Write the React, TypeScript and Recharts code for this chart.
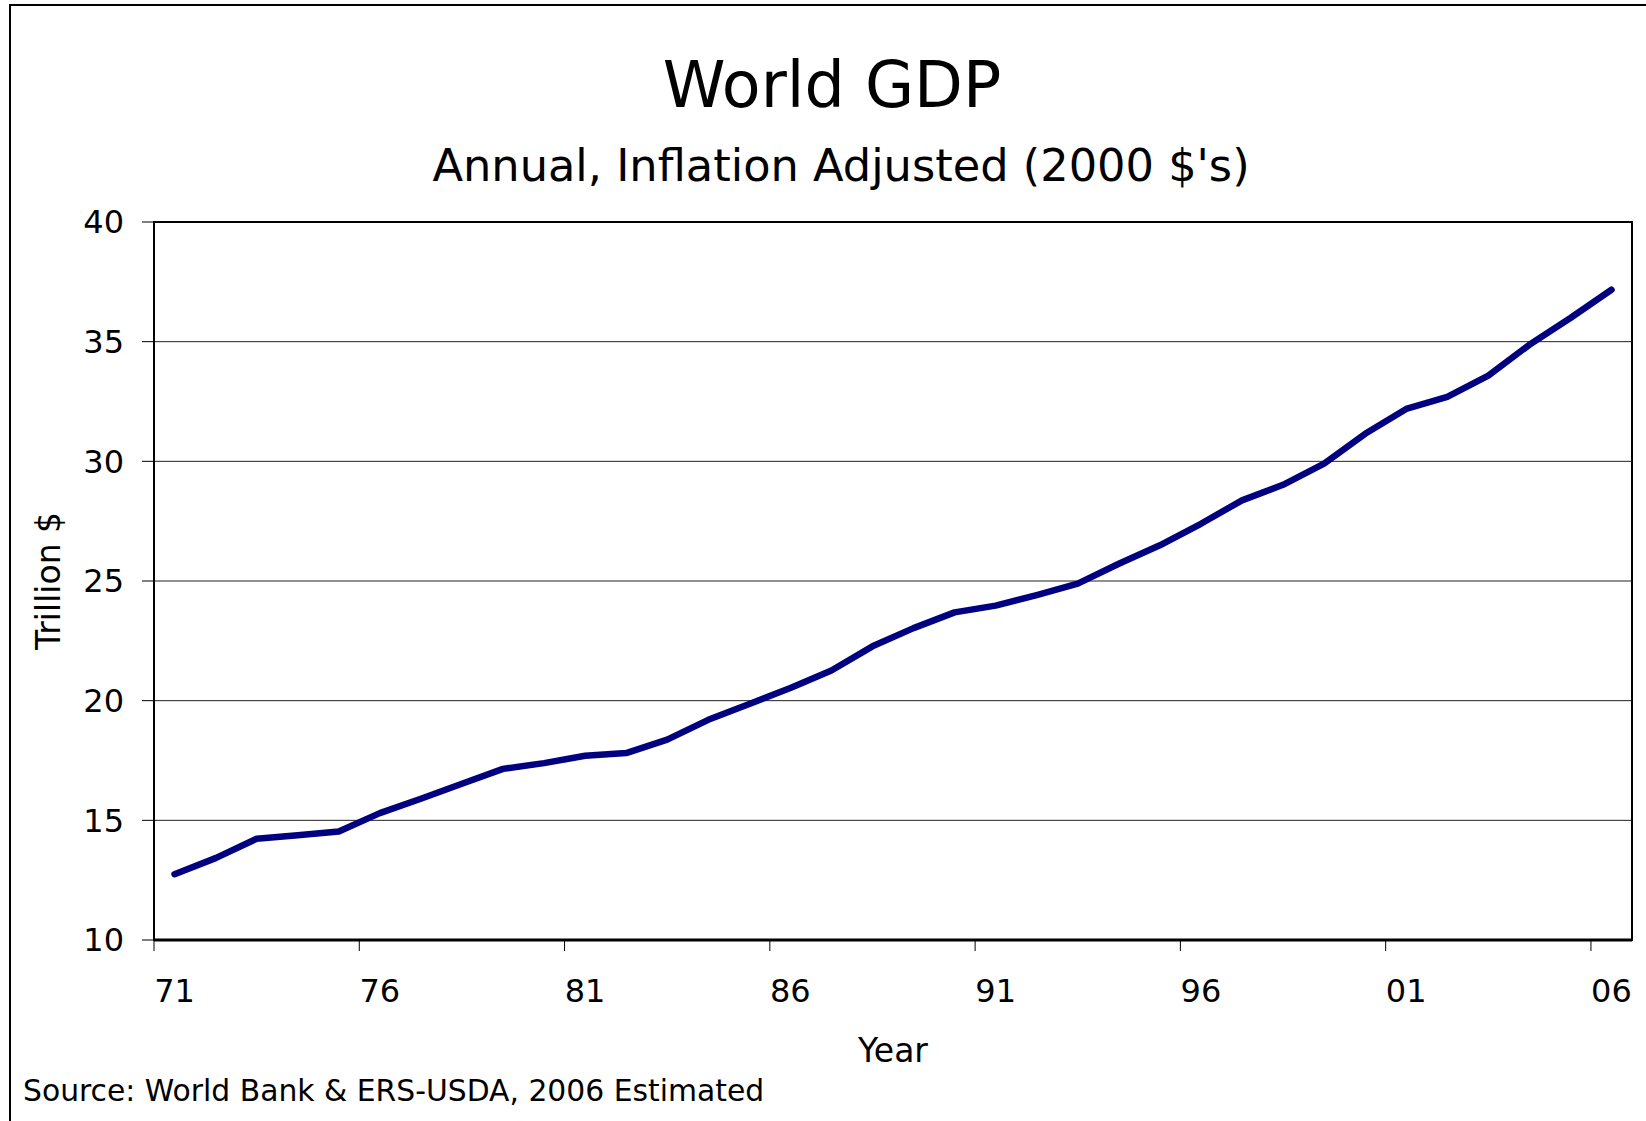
import React from "react";
import {
    LineChart,
    Line,
    XAxis,
    YAxis,
    CartesianGrid,
    ReferenceArea,
} from "recharts";

// World GDP, trillions of 2000 dollars (2006 estimated)
const years = [
    1971, 1972, 1973, 1974, 1975, 1976, 1977, 1978, 1979, 1980, 1981, 1982,
    1983, 1984, 1985, 1986, 1987, 1988, 1989, 1990, 1991, 1992, 1993, 1994,
    1995, 1996, 1997, 1998, 1999, 2000, 2001, 2002, 2003, 2004, 2005, 2006,
];
const gdp = [
    12.75, 13.42, 14.23, 14.38, 14.53, 15.3, 15.9, 16.53, 17.15, 17.39, 17.7,
    17.81, 18.37, 19.2, 19.86, 20.53, 21.26, 22.27, 23.03, 23.69, 23.97, 24.41,
    24.89, 25.72, 26.49, 27.39, 28.37, 29.02, 29.9, 31.15, 32.19, 32.69, 33.58,
    34.87, 35.99, 37.17,
];
const yTicks = [10, 15, 20, 25, 30, 35, 40];
// tick marks sit on the category boundaries, labels in the middle
const xTicks = [1970.5, 1975.5, 1980.5, 1985.5, 1990.5, 1995.5, 2000.5, 2005.5];

const data = years.map((year, i) => ({ year, gdp: gdp[i] }));

const W = 1646;
const H = 1121;
const PLOT_LEFT = 154;
const PLOT_RIGHT = 1632;
const HALF_BAND = (PLOT_RIGHT - PLOT_LEFT) / years.length / 2;
const FONT = "'DejaVu Sans', Verdana, sans-serif";

const yearLabel = (t: number) =>
    String(Math.round(t + 0.5) % 100).padStart(2, "0");

const YearTick = (props: any) => {
    const { x, y, payload } = props;
    return (
        <text
            x={x + HALF_BAND}
            y={y}
            dy="0.71em"
            textAnchor="middle"
            fontSize={32}
            fontFamily={FONT}
            fill="#000"
        >
            {yearLabel(payload.value)}
        </text>
    );
};

const App: React.FC = () => {
    return (
        <div
            style={{
                position: "absolute",
                left: 0,
                top: 0,
                width: W,
                height: H,
                overflow: "hidden",
                background: "#fff",
                fontFamily: FONT,
            }}
        >
            <div
                style={{
                    position: "absolute",
                    left: 9,
                    top: 4,
                    width: 1700,
                    height: 1200,
                    border: "2px solid #000",
                }}
            />
            <div
                style={{
                    position: "absolute",
                    left: 832 - 400,
                    width: 800,
                    top: 53,
                    fontSize: 63.5,
                    lineHeight: "64px",
                    textAlign: "center",
                }}
            >
                World GDP
            </div>
            <div
                style={{
                    position: "absolute",
                    left: 841 - 600,
                    width: 1200,
                    top: 144,
                    fontSize: 44.7,
                    lineHeight: "45px",
                    textAlign: "center",
                }}
            >
                Annual, Inflation Adjusted (2000 $'s)
            </div>
            <div style={{ position: "absolute", left: 0, top: 0 }}>
                <LineChart
                    width={W}
                    height={H}
                    data={data}
                    margin={{ top: 222, right: W - PLOT_RIGHT, bottom: 51, left: 0 }}
                >
                    <CartesianGrid
                        vertical={false}
                        stroke="#222"
                        strokeWidth={1}
                    />
                    <XAxis
                        dataKey="year"
                        type="number"
                        domain={[1970.5, 2006.5]}
                        ticks={xTicks}
                        interval={0}
                        allowDataOverflow
                        height={130}
                        tick={<YearTick />}
                        tickSize={11}
                        tickMargin={28}
                        axisLine={{ stroke: "#000", strokeWidth: 3 }}
                        tickLine={{ stroke: "#000", strokeWidth: 1 }}
                        label={{
                            value: "Year",
                            position: "insideBottom",
                            offset: 8,
                            fontSize: 33,
                            fill: "#000",
                            fontFamily: FONT,
                        }}
                    />
                    <YAxis
                        type="number"
                        domain={[10, 40]}
                        ticks={yTicks}
                        interval={0}
                        width={PLOT_LEFT}
                        tickSize={12}
                        tickMargin={18}
                        tick={{ fontSize: 32, fill: "#000", fontFamily: FONT }}
                        axisLine={{ stroke: "#000", strokeWidth: 2 }}
                        tickLine={{ stroke: "#000", strokeWidth: 1 }}
                        label={{
                            value: "Trillion $",
                            angle: -90,
                            position: "insideLeft",
                            offset: 48,
                            fontSize: 33,
                            fill: "#000",
                            fontFamily: FONT,
                            style: { textAnchor: "middle" },
                        }}
                    />
                    <ReferenceArea
                        x1={1970.5}
                        x2={2006.5}
                        y1={10}
                        y2={40}
                        fill="none"
                        stroke="#000"
                        strokeWidth={2}
                    />
                    <Line
                        type="linear"
                        dataKey="gdp"
                        stroke="#000080"
                        strokeWidth={6.5}
                        strokeLinecap="round"
                        strokeLinejoin="round"
                        dot={false}
                        activeDot={false}
                        isAnimationActive={false}
                    />
                </LineChart>
            </div>
            <div
                style={{
                    position: "absolute",
                    left: 23,
                    top: 1076,
                    fontSize: 29.8,
                    lineHeight: "30px",
                    whiteSpace: "nowrap",
                }}
            >
                Source: World Bank &amp; ERS-USDA, 2006 Estimated
            </div>
        </div>
    );
};

export default App;
